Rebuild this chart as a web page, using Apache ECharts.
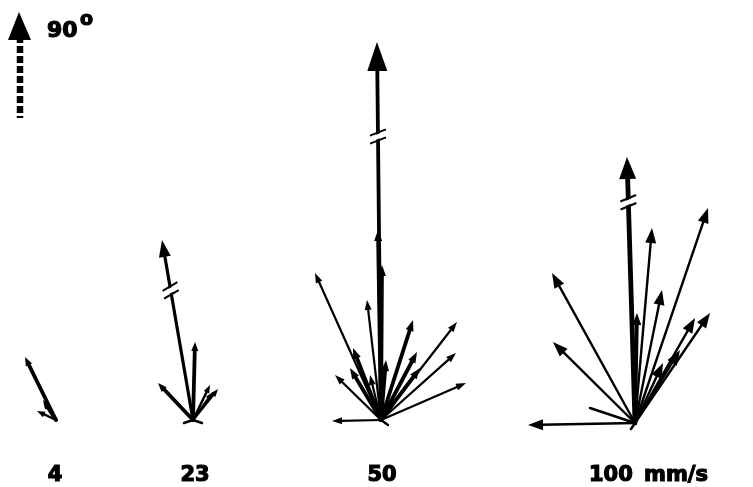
<!DOCTYPE html>
<html>
<head>
<meta charset="utf-8">
<script src="https://cdn.jsdelivr.net/npm/echarts@6/dist/echarts.min.js"></script>
<style>
html,body{margin:0;padding:0;background:#fff;}
#chart{width:753px;height:487px;}
</style>
</head>
<body>
<div id="chart"></div>
<script>
// ---------- DATA ----------
// Speeds (mm/s) of the four vector clusters
const speedLabels = ['4', '23', '50', '100'];
const unitLabel = 'mm/s';
const directionLabel = '90';
// Vector components [dx, dy] (dy positive = upward, 90°) per speed
const mainVectors = [null, [-31, 180], [-4, 378], [-8, 266]];   // broken (//) vectors
const heavyVectors = [
  [[-31, 63], [-13, 20]],
  [[2, 78], [-35, 37]],
  [[-3, 190], [1, 155], [5, 60], [-28, 72], [32, 100], [36, 68], [39, 52], [-31, 52]],
  [[2, 110]]
];
const lightVectors = [
  [[-19, 9]],
  [[17, 35], [25, 31], [20, 28]],
  [[-66, 147], [-14, 120], [76, 98], [75, 67], [85, 37], [-46, 45], [-11, 45], [-49, -1]],
  [[17, 195], [73, 215], [27, 133], [-83, 150], [-82, 81], [60, 105], [75, 110], [28, 60], [45, 73], [-107, -2]]
];
const stubVectors = [
  [],
  [[-9, -3], [9, -3]],
  [[7, -5]],
  [[-45, 15], [-4, -6]]
];

// ---------- LAYOUT ----------
const originX = [56, 193, 381, 635];
const originY = [67, 67, 67, 64];
const breakFrac = [0, 0.72, 0.75, 0.83];
const mainHead = [[0, 0], [17, 12], [29, 20], [22, 17]];
const mainLW = [0, 3.2, 3.8, 4.8];
const heavyHead = [[9, 7], [9, 7], [11, 8], [12, 9]];
const lightHead = [[8, 6], [8, 6], [10, 7], [15, 11]];
const lightLW = [2.4, 2.4, 2.2, 2.4];

function build(list) {
  const out = [];
  list.forEach((g, gi) => {
    if (!g) return;
    const arr = Array.isArray(g[0]) ? g : [g];
    arr.forEach(v => out.push([originX[gi], originY[gi], v[0], v[1], gi]));
  });
  return out;
}

function makeRender(kind) {
  return function (params, api) {
    const ox = api.value(0), oy = api.value(1), dx = api.value(2), dy = api.value(3), gi = api.value(4);
    const p0 = api.coord([ox, oy]);
    const p1 = api.coord([ox + dx, oy + dy]);
    const vx = p1[0] - p0[0], vy = p1[1] - p0[1];
    const len = Math.hypot(vx, vy);
    const ux = vx / len, uy = vy / len, nx = -uy, ny = ux;
    const children = [];
    let hl = 0, hw = 0, lw = 2;
    if (kind === 'main') { hl = mainHead[gi][0]; hw = mainHead[gi][1]; lw = mainLW[gi]; }
    else if (kind === 'heavy') { hl = heavyHead[gi][0]; hw = heavyHead[gi][1]; lw = 3.8; }
    else if (kind === 'light') { hl = lightHead[gi][0]; hw = lightHead[gi][1]; lw = lightLW[gi]; }
    else { lw = 2.4; }
    const bx = p1[0] - ux * hl * 0.85, by = p1[1] - uy * hl * 0.85;
    children.push({
      type: 'line',
      shape: { x1: p0[0], y1: p0[1], x2: bx, y2: by },
      style: { stroke: '#000', lineWidth: lw, lineCap: 'round' }
    });
    if (hl > 0) {
      const cx = p1[0] - ux * hl, cy = p1[1] - uy * hl;
      children.push({
        type: 'polygon',
        shape: { points: [[p1[0], p1[1]], [cx + nx * hw / 2, cy + ny * hw / 2], [cx - nx * hw / 2, cy - ny * hw / 2]] },
        style: { fill: '#000' }
      });
    }
    if (kind === 'main') {
      const f = breakFrac[gi];
      const mx = p0[0] + vx * f, my = p0[1] + vy * f;
      const sx = nx * 8 + ux * 3, sy = ny * 8 + uy * 3;
      const g = 2.5;
      children.push({
        type: 'polygon',
        shape: { points: [
          [mx + sx * 0.6 + ux * g, my + sy * 0.6 + uy * g],
          [mx - sx * 0.6 + ux * g, my - sy * 0.6 + uy * g],
          [mx - sx * 0.6 - ux * g, my - sy * 0.6 - uy * g],
          [mx + sx * 0.6 - ux * g, my + sy * 0.6 - uy * g]] },
        style: { fill: '#fff' }
      });
      [-g, g].forEach(o => {
        children.push({
          type: 'line',
          shape: { x1: mx + sx + ux * o * 1.6, y1: my + sy + uy * o * 1.6, x2: mx - sx + ux * o * 1.6, y2: my - sy + uy * o * 1.6 },
          style: { stroke: '#000', lineWidth: 2 }
        });
      });
    }
    return { type: 'group', children: children };
  };
}

const chart = echarts.init(document.getElementById('chart'), null, { renderer: 'canvas' });
const labelFont = 'bold 21px "DejaVu Sans", sans-serif';
const labelX = [55, 195, 382, 589];
const labelAlign = ['center', 'center', 'center', 'left'];
const textStroke = { stroke: '#000', lineWidth: 1.2 };
const option = {
  animation: false,
  backgroundColor: '#fff',
  grid: { left: 0, right: 0, top: 0, bottom: 0 },
  xAxis: { type: 'value', min: 0, max: 753, show: false },
  yAxis: { type: 'value', min: 0, max: 487, show: false },
  series: [
    { type: 'custom', clip: false, renderItem: makeRender('light'), data: build(lightVectors), encode: { x: 0, y: 1 } },
    { type: 'custom', clip: false, renderItem: makeRender('stub'), data: build(stubVectors), encode: { x: 0, y: 1 } },
    { type: 'custom', clip: false, renderItem: makeRender('heavy'), data: build(heavyVectors), encode: { x: 0, y: 1 } },
    { type: 'custom', clip: false, renderItem: makeRender('main'), data: build(mainVectors), encode: { x: 0, y: 1 } }
  ],
  graphic: [
    { type: 'line', shape: { x1: 20, y1: 36, x2: 20, y2: 118 }, style: { stroke: '#000', lineWidth: 6.5, lineDash: [7, 3] } },
    { type: 'polygon', shape: { points: [[19, 12], [8, 40], [31, 40]] }, style: { fill: '#000' } },
    { type: 'text', x: 47, y: 42, style: Object.assign({ text: directionLabel, font: 'bold 22px "DejaVu Sans", sans-serif', fill: '#000', textAlign: 'left', textVerticalAlign: 'bottom' }, textStroke) },
    { type: 'text', x: 80, y: 30, style: Object.assign({ text: 'o', font: 'bold 19px "DejaVu Sans", sans-serif', fill: '#000', textAlign: 'left', textVerticalAlign: 'bottom' }, textStroke) }
  ].concat(speedLabels.map((s, i) => ({
    type: 'text', x: labelX[i], y: 486,
    style: Object.assign({ text: s, font: labelFont, fill: '#000', textAlign: labelAlign[i], textVerticalAlign: 'bottom' }, textStroke)
  }))).concat([
    { type: 'text', x: 644, y: 486, style: Object.assign({ text: unitLabel, font: labelFont, fill: '#000', textAlign: 'left', textVerticalAlign: 'bottom' }, textStroke) }
  ])
};
chart.setOption(option);
</script>
</body>
</html>
